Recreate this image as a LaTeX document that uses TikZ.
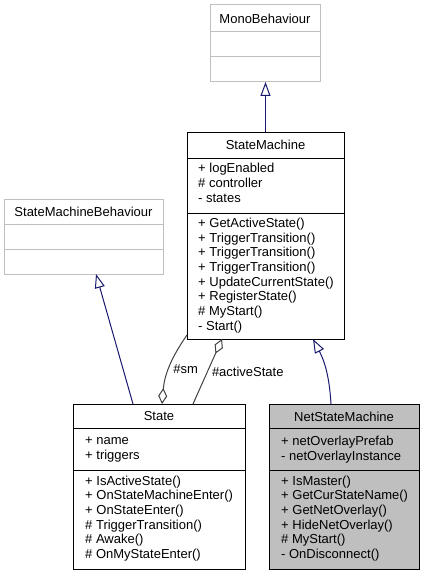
\documentclass[tikz,border=0pt]{standalone}
\usepackage{fontspec}
\setmainfont{Liberation Sans}
\usetikzlibrary{arrows.meta}
\definecolor{edgeblue}{HTML}{191970}
\definecolor{edgegray}{HTML}{404040}
\definecolor{extgray}{HTML}{BFBFBF}
\definecolor{derivedfill}{HTML}{BFBFBF}
\tikzset{
  classbox/.style={draw=black, line width=1pt, fill=white, inner sep=0pt, outer sep=0pt, anchor=north west},
  extbox/.style={classbox, draw=extgray},
  classname/.style={inner sep=0pt, font=\fontsize{13}{14.7}\selectfont},
  members/.style={anchor=west, align=left, inner sep=0pt, font=\fontsize{13}{14.7}\selectfont},
  inherit/.style={draw=edgeblue, line width=1pt, -{Triangle[length=14pt,width=10pt,fill=white]}},
  aggr/.style={draw=edgegray, line width=1pt, -{Diamond[length=16pt,width=9pt,fill=white]}},
  edgelabel/.style={inner sep=0pt, font=\fontsize{13}{14.7}\selectfont}
}
\begin{document}
\begin{tikzpicture}[x=1pt,y=-1pt]
    \useasboundingbox (0,0) rectangle (423,575);
    % external classes
    \node[extbox, minimum width=110pt, minimum height=77pt] (mono) at (210,5) {};
    \draw[extgray, line width=1pt] (mono.north west) ++(0,27) -- ++(110,0) (mono.north west) ++(0,52) -- ++(110,0);
    \node[classname] (mononame) at ([yshift=-13.5pt]mono.north) {MonoBehaviour};
    \node[extbox, minimum width=159pt, minimum height=75pt] (smb) at (4,199) {};
    \draw[extgray, line width=1pt] (smb.north west) ++(0,25) -- ++(159,0) (smb.north west) ++(0,50) -- ++(159,0);
    \node[classname] (smbname) at ([yshift=-12.5pt]smb.north) {StateMachineBehaviour};
    % StateMachine
    \node[classbox, minimum width=157pt, minimum height=207pt] (sm) at (187,132) {};
    \draw[line width=1pt] (sm.north west) ++(0,26) -- ++(157,0) (sm.north west) ++(0,81) -- ++(157,0);
    \node[classname] (smname) at ([yshift=-13pt]sm.north) {StateMachine};
    \node[members] (smattr) at (198,183) {+ logEnabled\\\# controller\\- states};
    \node[members] (smops) at (198,275.5) {+ GetActiveState()\\+ TriggerTransition()\\+ TriggerTransition()\\+ TriggerTransition()\\+ UpdateCurrentState()\\+ RegisterState()\\\# MyStart()\\- Start()};
    % State
    \node[classbox, minimum width=172pt, minimum height=165pt] (state) at (73,404) {};
    \draw[line width=1pt] (state.north west) ++(0,24) -- ++(172,0) (state.north west) ++(0,66) -- ++(172,0);
    \node[classname] (statename) at ([yshift=-12.5pt]state.north) {State};
    \node[members] (stateattr) at (85,449.5) {+ name\\+ triggers};
    \node[members] (stateops) at (85,518.5) {+ IsActiveState()\\+ OnStateMachineEnter()\\+ OnStateEnter()\\\# TriggerTransition()\\\# Awake()\\\# OnMyStateEnter()};
    % NetStateMachine
    \node[classbox, fill=derivedfill, minimum width=150pt, minimum height=165pt] (nsm) at (269,404) {};
    \draw[line width=1pt] (nsm.north west) ++(0,24) -- ++(150,0) (nsm.north west) ++(0,66) -- ++(150,0);
    \node[classname] (nsmname) at ([yshift=-12.5pt]nsm.north) {NetStateMachine};
    \node[members] (nsmattr) at (281,449.5) {+ netOverlayPrefab\\- netOverlayInstance};
    \node[members] (nsmops) at (281,518.5) {+ IsMaster()\\+ GetCurStateName()\\+ GetNetOverlay()\\+ HideNetOverlay()\\\# MyStart()\\- OnDisconnect()};
    % relations
    \draw[inherit] (sm.north) -- (sm.north |- mono.south);
    \draw[inherit] ([xshift=-26pt]state.north) -- ([xshift=12.5pt]smb.south);
    \draw[inherit] ([xshift=-13pt]nsm.north) to[bend right=12] ([xshift=47.5pt]sm.south);
    \draw[aggr] ([yshift=4pt]sm.south west) to[bend right=15] node[edgelabel, pos=0.52, right=4pt] {\#sm} ([xshift=3pt]state.north);
    \draw[aggr] ([xshift=34pt]state.north) -- node[edgelabel, pos=0.5, right=4pt] {\#activeState} ([xshift=-43.5pt]sm.south);
\end{tikzpicture}
\end{document}
